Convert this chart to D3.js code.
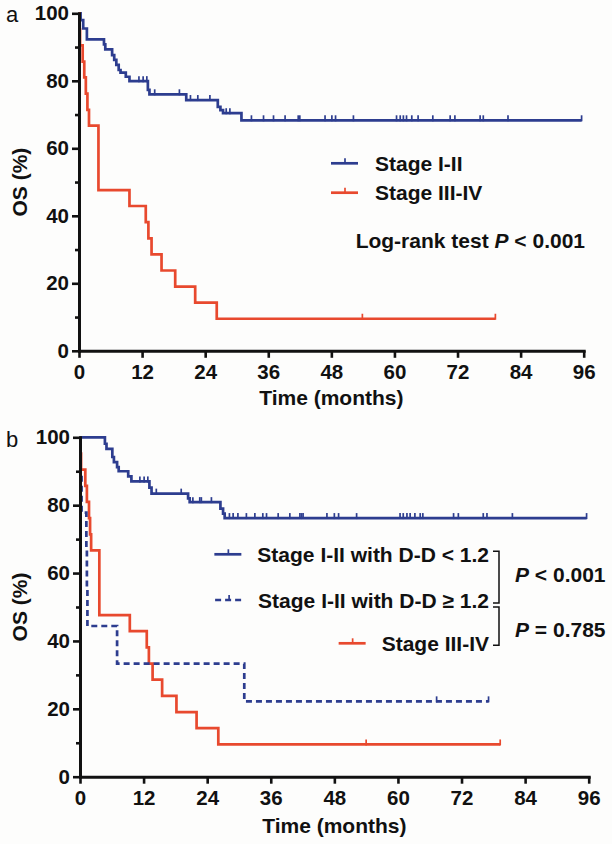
<!DOCTYPE html>
<html><head><meta charset="utf-8">
<script src="https://cdn.jsdelivr.net/npm/d3@7"></script>
<style>
html,body{margin:0;padding:0;background:#fdfdfc;}
svg{display:block;font-family:"Liberation Sans",Arial,Helvetica,sans-serif;}
</style></head><body>
<svg id="chart" width="612" height="844"></svg>
<script>
// ---------- tick labels ----------
const xTicks = [0, 12, 24, 36, 48, 60, 72, 84, 96];
const yTicks = [0, 20, 40, 60, 80, 100];
const yMinorTicks = [10, 30, 50, 70, 90];

// ---------- Panel a ----------
const aLegend = ["Stage I-II", "Stage III-IV"];
// Stage I-II (events: time in months, survival % after the drop)
const aStage12Times = [0.3, 0.8, 1.5, 4.75, 5.0, 6.3, 6.7, 7.1, 7.55, 7.9, 8.9, 9.6, 13.1, 13.4, 20.4, 26.4, 26.9, 27.4, 30.9];
const aStage12Surv  = [98.0, 95.5, 92.3, 90.8, 89.3, 87.6, 86.2, 84.7, 83.2, 82.4, 81.2, 79.9, 77.3, 76.0, 74.3, 72.3, 71.3, 70.4, 68.3];
const aStage12Censor = [11.4, 12.2, 12.9, 14.4, 19.1, 21.2, 22.6, 24.9, 28.0, 28.7, 32.8, 35.1, 37.0, 39.2, 41.7, 42.0,
  46.8, 48.1, 48.8, 52.2, 60.4, 61.1, 61.7, 62.3, 63.3, 64.5, 67.3, 70.6, 71.5, 76.3, 76.9, 81.6, 95.6];
// Stage III-IV
const aStage34Times = [0.1, 0.2, 0.7, 1.0, 1.3, 1.6, 1.9, 3.7, 9.6, 12.7, 13.2, 13.8, 15.7, 18.3, 22.1, 26.2];
const aStage34Surv  = [95.2, 90.5, 85.7, 81.0, 76.2, 71.4, 66.7, 47.6, 42.9, 38.1, 33.3, 28.6, 23.8, 19.0, 14.3, 9.5];
const aStage34Censor = [53.9, 79.2];

// ---------- Panel b ----------
const bLegend = ["Stage I-II with D-D < 1.2", "Stage I-II with D-D \u2265 1.2", "Stage III-IV"];
const bPValues = ["< 0.001", "= 0.785"];
// Stage I-II with D-D < 1.2
const bLowDDTimes = [4.7, 5.0, 6.1, 6.4, 7.0, 7.3, 9.1, 9.7, 13.1, 13.5, 20.4, 20.7, 26.5, 27.0, 27.3];
const bLowDDSurv  = [98.1, 96.6, 94.2, 92.7, 91.2, 90.0, 88.5, 87.0, 85.2, 83.4, 82.0, 80.9, 79.0, 77.5, 76.2];
const bLowDDCensor = [11.3, 12.1, 12.8, 14.4, 19.1, 21.3, 22.6, 22.9, 24.8, 28.2, 28.9, 29.8, 31.4, 33.0, 34.5, 35.2,
  37.4, 39.6, 41.5, 41.8, 42.1, 46.6, 48.0, 48.8, 52.2, 60.4, 61.0, 61.7, 62.3, 63.2, 64.2, 64.7, 70.5, 71.4, 76.1, 76.8, 81.6, 95.6];
// Stage I-II with D-D >= 1.2
const bHighDDTimes = [0.1, 0.3, 1.2, 1.3, 1.4, 7.0, 31.0];
const bHighDDSurv  = [88.9, 77.8, 66.7, 55.6, 44.4, 33.3, 22.2];
const bHighDDCensor = [67.3, 77.1];
// Stage III-IV
const bStage34Times = [0.1, 0.2, 1.0, 1.3, 1.7, 1.9, 2.1, 3.65, 9.4, 12.6, 13.0, 13.7, 15.5, 18.2, 22.0, 26.1];
const bStage34Surv  = [95.2, 90.5, 85.7, 81.0, 76.2, 71.4, 66.7, 47.6, 42.9, 38.1, 33.3, 28.6, 23.8, 19.0, 14.3, 9.5];
const bStage34Censor = [54.0, 79.3];

// ---------- styles ----------
const BLUE = "#2d3d8f";
const RED = "#e8492e";
const svg = d3.select("#chart");
svg.append("rect").attr("width", 612).attr("height", 844).attr("fill", "#fdfdfc");

function survAt(times, surv, t) {
  const i = d3.bisectRight(times, t);
  return i === 0 ? 100 : surv[i - 1];
}

function drawAxes(g, x, y, titleY) {
  g.append("g").attr("transform", `translate(${x(0)},0)`)
    .call(d3.axisLeft(y).tickValues(yTicks).tickSize(7).tickSizeOuter(0).tickPadding(3));
  g.append("g").attr("transform", `translate(${x(0)},0)`)
    .call(d3.axisLeft(y).tickValues(yMinorTicks).tickSize(4).tickSizeOuter(0).tickFormat(""))
    .call(s => s.select(".domain").remove());
  g.append("g").attr("transform", `translate(0,${y(0)})`)
    .call(d3.axisBottom(x).tickValues(xTicks).tickSize(7).tickSizeOuter(0).tickPadding(7));
  g.selectAll(".domain").attr("stroke", "#111").attr("stroke-width", 3).attr("stroke-linecap", "square");
  g.selectAll(".tick line").attr("stroke", "#111").attr("stroke-width", 2.6);
  g.selectAll(".tick text").attr("font-size", 20.5).attr("font-weight", "bold").attr("fill", "#111")
    .attr("font-family", '"Liberation Sans",Arial,sans-serif');
  g.append("text").attr("x", (x(0) + x(96)) / 2).attr("y", titleY)
    .attr("text-anchor", "middle").attr("font-size", 21).attr("font-weight", "bold").attr("fill", "#111")
    .text("Time (months)");
  const cy = (y(0) + y(100)) / 2;
  g.append("text").attr("transform", `translate(27,${cy}) rotate(-90)`)
    .attr("text-anchor", "middle").attr("font-size", 21).attr("font-weight", "bold").attr("fill", "#111")
    .text("OS (%)");
}

function drawKM(g, x, y, times, surv, censor, color, dash) {
  const end = d3.max(censor);
  const pts = [[0, 100]].concat(times.map((t, i) => [t, surv[i]]));
  pts.push([Math.max(end, times[times.length - 1]), surv[surv.length - 1]]);
  const line = d3.line().x(d => x(d[0])).y(d => y(d[1])).curve(d3.curveStepAfter);
  g.append("path").attr("d", line(pts)).attr("fill", "none").attr("stroke", color)
    .attr("stroke-width", 2.7).attr("stroke-dasharray", dash || null);
  g.append("g").selectAll("line").data(censor).join("line")
    .attr("x1", d => x(d)).attr("x2", d => x(d))
    .attr("y1", d => y(survAt(times, surv, d)) + 1)
    .attr("y2", d => y(survAt(times, surv, d)) - 5)
    .attr("stroke", color).attr("stroke-width", 1.7);
}

function legendSample(g, x0, yc, color, dash) {
  g.append("line").attr("x1", x0).attr("x2", x0 + 27).attr("y1", yc).attr("y2", yc)
    .attr("stroke", color).attr("stroke-width", 2.7).attr("stroke-dasharray", dash || null);
  g.append("line").attr("x1", x0 + 14).attr("x2", x0 + 14).attr("y1", yc).attr("y2", yc - 5)
    .attr("stroke", color).attr("stroke-width", 1.7);
}

// ================= Panel a =================
{
  const x = d3.scaleLinear().domain([0, 96]).range([79, 583.7]);
  const y = d3.scaleLinear().domain([0, 100]).range([350.8, 13.3]);
  const g = svg.append("g");
  drawKM(g, x, y, aStage12Times, aStage12Surv, aStage12Censor, BLUE);
  drawKM(g, x, y, aStage34Times, aStage34Surv, aStage34Censor, RED);
  drawAxes(g, x, y, 405);
  g.append("text").attr("x", 6).attr("y", 22).attr("font-size", 22).attr("fill", "#111").text("a");

  const rows = [[163.3, BLUE], [192.7, RED]];
  rows.forEach((r, i) => {
    legendSample(g, 331, r[0], r[1]);
    g.append("text").attr("x", 375).attr("y", r[0] + 7.5).attr("font-size", 21).attr("font-weight", "bold")
      .attr("fill", "#111").text(aLegend[i]);
  });
  const lr = g.append("text").attr("x", 585).attr("y", 248).attr("text-anchor", "end")
    .attr("font-size", 21).attr("font-weight", "bold").attr("fill", "#111");
  lr.append("tspan").text("Log-rank test ");
  lr.append("tspan").attr("font-style", "italic").text("P");
  lr.append("tspan").text(" < 0.001");
}

// ================= Panel b =================
{
  const x = d3.scaleLinear().domain([0, 96]).range([80, 588.7]);
  const y = d3.scaleLinear().domain([0, 100]).range([776.7, 437.3]);
  const g = svg.append("g");
  drawKM(g, x, y, bLowDDTimes, bLowDDSurv, bLowDDCensor, BLUE);
  drawKM(g, x, y, bStage34Times, bStage34Surv, bStage34Censor, RED);
  drawKM(g, x, y, bHighDDTimes, bHighDDSurv, bHighDDCensor, BLUE, "6,4");
  drawAxes(g, x, y, 833);
  g.append("text").attr("x", 6).attr("y", 447).attr("font-size", 22).attr("fill", "#111").text("b");

  const rows = [[554.3, BLUE, null], [600, BLUE, "6,4"], [643.3, RED, null]];
  const textRight = 489;
  rows.forEach((r, i) => {
    const t = g.append("text").attr("x", textRight).attr("y", r[0] + 7.5).attr("text-anchor", "end")
      .attr("font-size", 21).attr("font-weight", "bold").attr("fill", "#111").text(bLegend[i]);
    const w = t.node().getComputedTextLength();
    legendSample(g, textRight - w - 16 - 27, r[0], r[1], r[2]);
  });
  // brackets
  const bx = 499;
  g.append("path").attr("d", `M${bx - 6},${rows[0][0] - 3}H${bx}V${rows[1][0] + 3}H${bx - 6}`)
    .attr("fill", "none").attr("stroke", "#111").attr("stroke-width", 1.5);
  g.append("path").attr("d", `M${bx - 6},${rows[1][0] + 7}H${bx}V${rows[2][0] + 2}H${bx - 6}`)
    .attr("fill", "none").attr("stroke", "#111").attr("stroke-width", 1.5);
  const pY = [582, 637];
  pY.forEach((py, i) => {
    const t = g.append("text").attr("x", 515).attr("y", py).attr("font-size", 21).attr("font-weight", "bold").attr("fill", "#111");
    t.append("tspan").attr("font-style", "italic").text("P");
    t.append("tspan").text(" " + bPValues[i]);
  });
}
</script>
</body></html>
